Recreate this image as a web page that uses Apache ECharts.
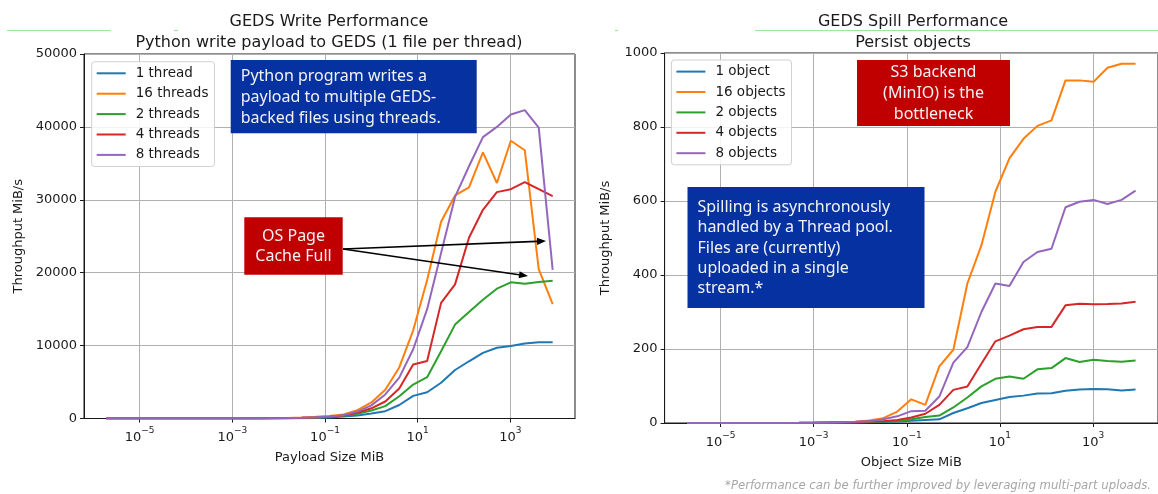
<!DOCTYPE html>
<html>
<head>
<meta charset="utf-8">
<title>GEDS Performance</title>
<script src="https://cdn.jsdelivr.net/npm/echarts@6.0.0/dist/echarts.min.js"></script>
<style>
html, body { margin:0; padding:0; background:#ffffff; }
#chart { width:1158px; height:494px; }
</style>
</head>
<body>
<div id="chart"></div>
<script>
// ---------------- Data ----------------
// Sizes in MiB (powers of two from 2^-19 to 2^13)
const sizesMiB = [
  2**-19, 2**-18, 2**-17, 2**-16, 2**-15, 2**-14, 2**-13, 2**-12, 2**-11, 2**-10,
  2**-9, 2**-8, 2**-7, 2**-6, 2**-5, 2**-4, 2**-3, 2**-2, 2**-1, 2**0,
  2**1, 2**2, 2**3, 2**4, 2**5, 2**6, 2**7, 2**8, 2**9, 2**10,
  2**11, 2**12, 2**13
];

// Left chart: GEDS Write Performance (MiB/s)
const writeNames = ['1 thread', '16 threads', '2 threads', '4 threads', '8 threads'];
const write1 = [0.003, 0.005, 0.01, 0.02, 0.04, 0.08, 0.15, 0.3, 0.6, 1.2, 2.4, 4.8, 9.5, 19, 38,
  80, 150, 270, 410, 690,
  1000, 1850, 3100, 3600, 4900, 6650, 7850, 9000, 9700, 9950, 10300, 10450, 10450];
const write16 = [0.01, 0.02, 0.04, 0.08, 0.15, 0.3, 0.6, 1.2, 2.4, 4.8, 9.5, 19, 38, 75, 150,
  240, 350, 560, 1150, 2200,
  3950, 7000, 12100, 19000, 27000, 30600, 31700, 36500, 32300, 38100, 36800, 20500, 15700];
const write2 = [0.005, 0.01, 0.02, 0.04, 0.08, 0.15, 0.3, 0.6, 1.2, 2.4, 4.8, 9.5, 19, 38, 70,
  120, 200, 370, 640, 1100,
  1700, 3060, 4660, 5660, 9220, 12880, 14610, 16300, 17810, 18680, 18500, 18730, 18900];
const write4 = [0.006, 0.012, 0.025, 0.05, 0.1, 0.2, 0.4, 0.8, 1.6, 3.2, 6.4, 12.5, 25, 48, 90,
  150, 230, 410, 780, 1400,
  2330, 4110, 7400, 7880, 15860, 18400, 24800, 28630, 31050, 31460, 32420, 31460, 30500];
const write8 = [0.008, 0.016, 0.03, 0.06, 0.12, 0.25, 0.5, 1, 2, 4, 8, 16, 32, 60, 110,
  180, 280, 460, 950, 1800,
  3300, 5600, 9500, 15000, 22700, 30400, 34600, 38600, 40000, 41700, 42300, 39900, 20400];

// Right chart: GEDS Spill Performance (MiB/s)
const spillNames = ['1 object', '16 objects', '2 objects', '4 objects', '8 objects'];
const spill1 = [0.0005, 0.001, 0.002, 0.004, 0.008, 0.015, 0.03, 0.06, 0.12, 0.25, 0.5, 0.9, 1.5, 2.2, 3,
  4, 6, 8, 10, 27,
  40, 54, 62, 70, 74, 80, 80.5, 87, 90.5, 92, 91.5, 88, 90.5];
const spill16 = [0.002, 0.004, 0.008, 0.016, 0.03, 0.06, 0.12, 0.25, 0.5, 1, 1.8, 2.8, 3.5, 6.5, 13,
  31, 64, 49, 153, 198,
  377, 480, 625, 715, 768, 803, 818, 926, 926, 922, 960, 971, 971];
const spill2 = [0.001, 0.002, 0.004, 0.008, 0.015, 0.03, 0.06, 0.12, 0.25, 0.5, 0.9, 1.5, 2.2, 3, 4,
  5, 10, 16, 20, 42,
  69, 99, 119.5, 125.8, 119.5, 145, 148.4, 175.5, 164.7, 171, 167.4, 165.6, 169];
const spill4 = [0.0015, 0.003, 0.006, 0.012, 0.025, 0.05, 0.1, 0.2, 0.4, 0.8, 1.4, 2, 2.8, 4, 5,
  8, 15, 25, 49, 89.5,
  98.6, 160, 220.7, 236.2, 253.4, 259.7, 259.7, 318, 322.5, 320.7, 321.5, 323, 327.5];
const spill8 = [0.002, 0.004, 0.007, 0.014, 0.03, 0.06, 0.12, 0.24, 0.5, 1, 1.6, 2.4, 3.4, 5, 10,
  18, 32, 33, 71.5, 163,
  205, 300, 377, 370, 435, 462, 471, 583, 598, 603, 592, 603, 628];

// Tick values
const xTickValues = [1e-5, 1e-3, 1e-1, 1e1, 1e3];
const writeYMax = 50000, writeYStep = 10000;
const spillYMax = 1000, spillYStep = 200;

// ---------------- Styling ----------------
const FONT = 'DejaVu Sans';
const BOXFONT = '"Noto Sans", "Open Sans", sans-serif';
const TXT = '#1a1a1a';
const COLORS = ['#1f77b4', '#ff7f0e', '#2ca02c', '#d62728', '#9467bd'];
const GRIDC = '#b0b0b0';
// matplotlib default x-margins (5%) on log axis
const xMin = Math.pow(10, -6.2013), xMax = Math.pow(10, 4.3951);

function powLabel(v) {
  const e = Math.round(Math.log10(v));
  const s = e < 0 ? '\u2212' + (-e) : String(e);
  return '{b|10}{s|' + s + '}';
}

function makeX(gridIndex, name) {
  return {
    type: 'log', logBase: 10, gridIndex: gridIndex, min: xMin, max: xMax,
    axisLine: { show: true, onZero: false, lineStyle: { color: TXT, width: 1 } },
    axisTick: { show: true, inside: false, length: 4, lineStyle: { color: TXT, width: 1 }, customValues: xTickValues },
    minorTick: { show: false },
    minorSplitLine: { show: false },
    axisLabel: {
      customValues: xTickValues, formatter: powLabel, margin: 8, color: TXT,
      rich: {
        b: { fontFamily: FONT, fontSize: 13, color: TXT, padding: [5, 0, 0, 0] },
        s: { fontFamily: FONT, fontSize: 9, color: TXT, verticalAlign: 'top' }
      }
    },
    splitLine: { show: true, lineStyle: { color: GRIDC, width: 1 } },
    name: name, nameLocation: 'middle', nameGap: 33,
    nameTextStyle: { fontFamily: FONT, fontSize: 13, color: TXT }
  };
}

function makeY(gridIndex, max, step, gap) {
  return {
    type: 'value', gridIndex: gridIndex, min: 0, max: max, interval: step,
    axisLine: { show: true, lineStyle: { color: TXT, width: 1 } },
    axisTick: { show: true, inside: false, length: 4, lineStyle: { color: TXT, width: 1 } },
    axisLabel: { formatter: v => String(v), margin: 7, fontFamily: FONT, fontSize: 13, color: TXT },
    splitLine: { show: true, lineStyle: { color: GRIDC, width: 1 } },
    name: 'Throughput MiB/s', nameLocation: 'middle', nameGap: gap, nameRotate: 90,
    nameTextStyle: { fontFamily: FONT, fontSize: 13, color: TXT }
  };
}

function makeSeries(name, vals, idx, axisIndex) {
  return {
    type: 'line', name: name, xAxisIndex: axisIndex, yAxisIndex: axisIndex,
    data: sizesMiB.map((s, i) => [s, vals[i]]),
    showSymbol: false, symbol: 'none', smooth: false,
    lineStyle: { color: COLORS[idx], width: 2 },
    itemStyle: { color: COLORS[idx] },
    emphasis: { disabled: true }, z: 3 + idx
  };
}

function makeLegend(names, left, top) {
  return {
    data: names, orient: 'vertical', left: left, top: top,
    icon: 'rect', itemWidth: 29, itemHeight: 2, itemGap: 5.2,
    padding: [4, 6, 4, 5],
    backgroundColor: 'rgba(255,255,255,0.85)', borderColor: '#d0d0d0', borderWidth: 1, borderRadius: 3,
    selectedMode: false,
    textStyle: { fontFamily: FONT, fontSize: 13.5, color: TXT, lineHeight: 15.2, padding: [0, 0, 0, 5] }
  };
}

function arrow(x1, y1, x2, y2) {
  const ang = Math.atan2(y2 - y1, x2 - x1);
  const L = 9, W = 3.6;
  const bx = x2 - L * Math.cos(ang), by = y2 - L * Math.sin(ang);
  const px = -Math.sin(ang), py = Math.cos(ang);
  return [
    { type: 'line', z: 100, shape: { x1: x1, y1: y1, x2: bx, y2: by }, style: { stroke: '#000', lineWidth: 1.6 } },
    { type: 'polygon', z: 100, shape: { points: [[x2, y2], [bx + px * W, by + py * W], [bx - px * W, by - py * W]] }, style: { fill: '#000' } }
  ];
}

function box(x, y, w, h, color) {
  return { type: 'rect', z: 100, shape: { x: x, y: y, width: w, height: h }, style: { fill: color } };
}
function boxText(x, y, text, align, lh) {
  return { type: 'text', z: 101, x: x, y: y,
    style: { text: text, fill: '#f2f2f2', fontFamily: BOXFONT, fontSize: 16, lineHeight: lh,
             align: align, verticalAlign: 'middle' } };
}
function titleText(x, y, text) {
  return { type: 'text', z: 100, x: x, y: y,
    style: { text: text, fill: TXT, fontFamily: FONT, fontSize: 16, align: 'center', verticalAlign: 'middle' } };
}
function greenLine(x1, x2) {
  return { type: 'line', z: 1, shape: { x1: x1, y1: 30.5, x2: x2, y2: 30.5 }, style: { stroke: '#9fe59f', lineWidth: 1.2 } };
}

const BLUE = '#0532a0', RED = '#c00000';

const graphics = [
  greenLine(7, 111), greenLine(174, 178), greenLine(615, 618), greenLine(755, 1158),
  titleText(329, 21.5, 'GEDS Write Performance'),
  titleText(329, 42.5, 'Python write payload to GEDS (1 file per thread)'),
  titleText(913, 21.5, 'GEDS Spill Performance'),
  titleText(913, 42.5, 'Persist objects'),
  box(230.7, 60, 246, 73.3, BLUE),
  boxText(240.7, 97.3, 'Python program writes a\npayload to multiple GEDS-\nbacked files using threads.', 'left', 20.7),
  box(244.3, 217.3, 98.4, 57.4, RED),
  boxText(293.5, 246.5, 'OS Page\nCache Full', 'center', 19.8),
  box(857, 60, 153, 66, RED),
  boxText(933.5, 93.3, 'S3 backend\n(MinIO) is the\nbottleneck', 'center', 20.7),
  box(687.5, 187, 237, 121, BLUE),
  boxText(697.5, 248, 'Spilling is asynchronously\nhandled by a Thread pool.\nFiles are (currently)\nuploaded in a single\nstream.*', 'left', 20.4),
  ...arrow(343, 249, 546, 241),
  ...arrow(343, 249, 528, 276),
  { type: 'text', z: 100, x: 1151, y: 486,
    style: { text: '*Performance can be further improved by leveraging multi-part uploads.',
             fill: '#a6a6a6', fontFamily: '"Liberation Sans Narrow", "DejaVu Sans Condensed", sans-serif',
             fontSize: 13, fontStyle: 'italic', align: 'right', verticalAlign: 'middle' } }
];

const chart = echarts.init(document.getElementById('chart'), null, { renderer: 'canvas' });
chart.setOption({
  animation: false,
  backgroundColor: '#ffffff',
  grid: [
    { left: 84, top: 54, width: 491, height: 364.5, show: true, borderColor: TXT, borderWidth: 1, backgroundColor: 'transparent' },
    { left: 664.6, top: 53, width: 498, height: 370, show: true, borderColor: TXT, borderWidth: 1, backgroundColor: 'transparent' }
  ],
  xAxis: [makeX(0, 'Payload Size MiB'), makeX(1, 'Object Size MiB')],
  yAxis: [makeY(0, writeYMax, writeYStep, 59), makeY(1, spillYMax, spillYStep, 52)],
  legend: [makeLegend(writeNames, 91.7, 61.7), makeLegend(spillNames, 671.4, 60)],
  series: [
    makeSeries(writeNames[0], write1, 0, 0),
    makeSeries(writeNames[1], write16, 1, 0),
    makeSeries(writeNames[2], write2, 2, 0),
    makeSeries(writeNames[3], write4, 3, 0),
    makeSeries(writeNames[4], write8, 4, 0),
    makeSeries(spillNames[0], spill1, 0, 1),
    makeSeries(spillNames[1], spill16, 1, 1),
    makeSeries(spillNames[2], spill2, 2, 1),
    makeSeries(spillNames[3], spill4, 3, 1),
    makeSeries(spillNames[4], spill8, 4, 1)
  ],
  graphic: { elements: graphics }
});
</script>
</body>
</html>
